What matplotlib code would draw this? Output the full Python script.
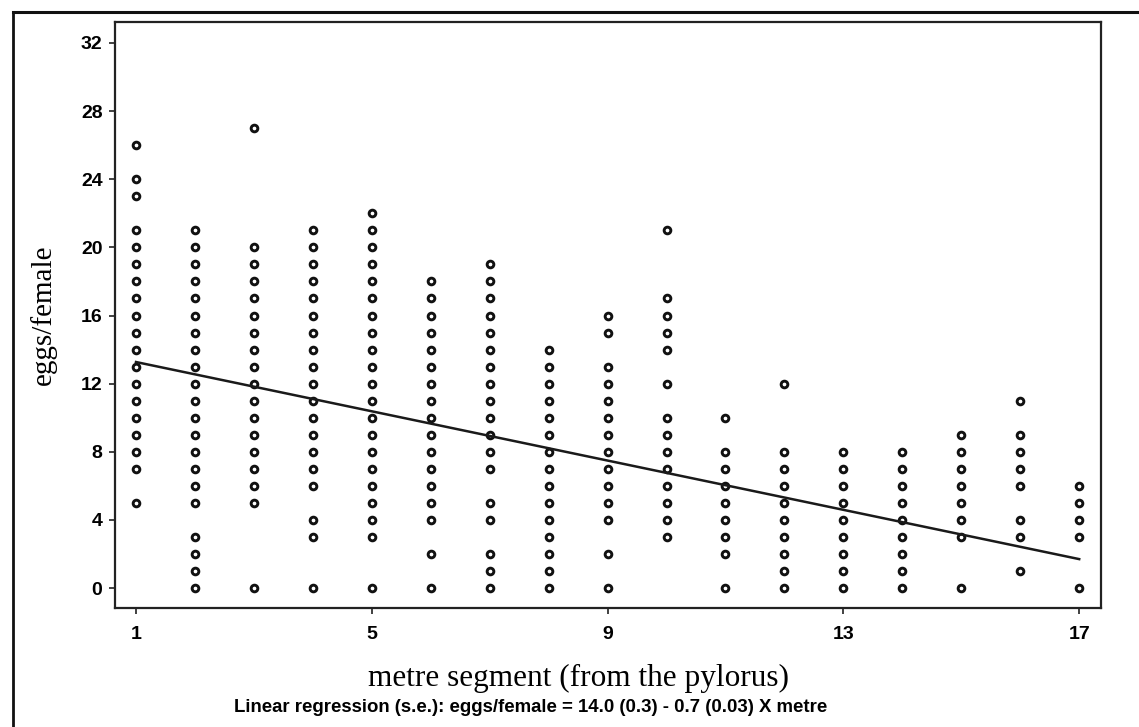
import matplotlib
matplotlib.use('Agg')
import matplotlib.pyplot as plt
from matplotlib.lines import Line2D
import numpy as np

# eggs/female observed in each metre segment
seg1 = [26, 24, 23, 21, 20, 19, 18, 17, 16, 15, 14, 13, 12, 11, 10, 9, 8, 7, 5]
seg2 = [21, 20, 19, 18, 17, 16, 15, 14, 13, 12, 11, 10, 9, 8, 7, 6, 5, 3, 2, 1, 0]
seg3 = [27, 20, 19, 18, 17, 16, 15, 14, 13, 12, 11, 10, 9, 8, 7, 6, 5, 0]
seg4 = [21, 20, 19, 18, 17, 16, 15, 14, 13, 12, 11, 10, 9, 8, 7, 6, 4, 3, 0]
seg5 = [22, 21, 20, 19, 18, 17, 16, 15, 14, 13, 12, 11, 10, 9, 8, 7, 6, 5, 4, 3, 0]
seg6 = [18, 17, 16, 15, 14, 13, 12, 11, 10, 9, 8, 7, 6, 5, 4, 2, 0]
seg7 = [19, 18, 17, 16, 15, 14, 13, 12, 11, 10, 9, 8, 7, 5, 4, 2, 1, 0]
seg8 = [14, 13, 12, 11, 10, 9, 8, 7, 6, 5, 4, 3, 2, 1, 0]
seg9 = [16, 15, 13, 12, 11, 10, 9, 8, 7, 6, 5, 4, 2, 0]
seg10 = [21, 17, 16, 15, 14, 12, 10, 9, 8, 7, 6, 5, 4, 3]
seg11 = [10, 8, 7, 6, 5, 4, 3, 2, 0]
seg12 = [12, 8, 7, 6, 5, 4, 3, 2, 1, 0]
seg13 = [8, 7, 6, 5, 4, 3, 2, 1, 0]
seg14 = [8, 7, 6, 5, 4, 3, 2, 1, 0]
seg15 = [9, 8, 7, 6, 5, 4, 3, 0]
seg16 = [11, 9, 8, 7, 6, 4, 3, 1]
seg17 = [6, 5, 4, 3, 0]
segments = [seg1, seg2, seg3, seg4, seg5, seg6, seg7, seg8, seg9,
            seg10, seg11, seg12, seg13, seg14, seg15, seg16, seg17]

# regression line ends as drawn
line_x = [1, 17]
line_y = [13.27, 1.70]

x_ticks = [1, 5, 9, 13, 17]
y_ticks = [0, 4, 8, 12, 16, 20, 24, 28, 32]

sans = ['Liberation Sans', 'DejaVu Sans']
serif = ['Liberation Serif', 'DejaVu Serif']

fig = plt.figure(figsize=(11.39, 7.27), dpi=100)
ax = fig.add_axes([115/1139, 1 - 608/727, 986/1139, 586/727])

for i, vals in enumerate(segments):
    xs = np.full(len(vals), i + 1)
    ax.plot(xs, vals, 'o', ms=4.8, mew=2.1, mfc='white', mec='#111111', ls='none')

ax.plot(line_x, line_y, color='#1a1a1a', lw=1.8)

ax.set_xlim(0.644, 17.37)
ax.set_ylim(-1.17, 33.23)
ax.set_xticks(x_ticks)
ax.set_yticks(y_ticks)
ax.set_xticklabels([str(t) for t in x_ticks], family=sans, fontweight='bold', fontsize=14)
ax.set_yticklabels([str(t) for t in y_ticks], family=sans, fontweight='bold', fontsize=14)
ax.tick_params(axis='both', length=4, width=1.3, color='#333333', pad=5)
ax.tick_params(axis='x', pad=9)

for s in ax.spines.values():
    s.set_linewidth(1.6)
    s.set_color('#222222')

ax.set_ylabel('eggs/female', family=serif, fontsize=21, labelpad=17)
fig.text(579/1139, 1 - 678/727, 'metre segment (from the pylorus)', family=serif,
         fontsize=22.5, ha='center', va='center')
fig.text(531/1139, 1 - 707/727,
         'Linear regression (s.e.): eggs/female = 14.0 (0.3) - 0.7 (0.03) X metre',
         family=sans, fontweight='bold', fontsize=13.4, ha='center', va='center')

# outer frame of the scanned figure
fig.add_artist(Line2D([13/1139, 1], [1 - 12/727, 1 - 12/727], color='#111111', lw=2.2,
                      transform=fig.transFigure))
fig.add_artist(Line2D([13/1139, 13/1139], [0, 1 - 12/727], color='#111111', lw=2.0,
                      transform=fig.transFigure))

fig.savefig('out.png', dpi=100)
